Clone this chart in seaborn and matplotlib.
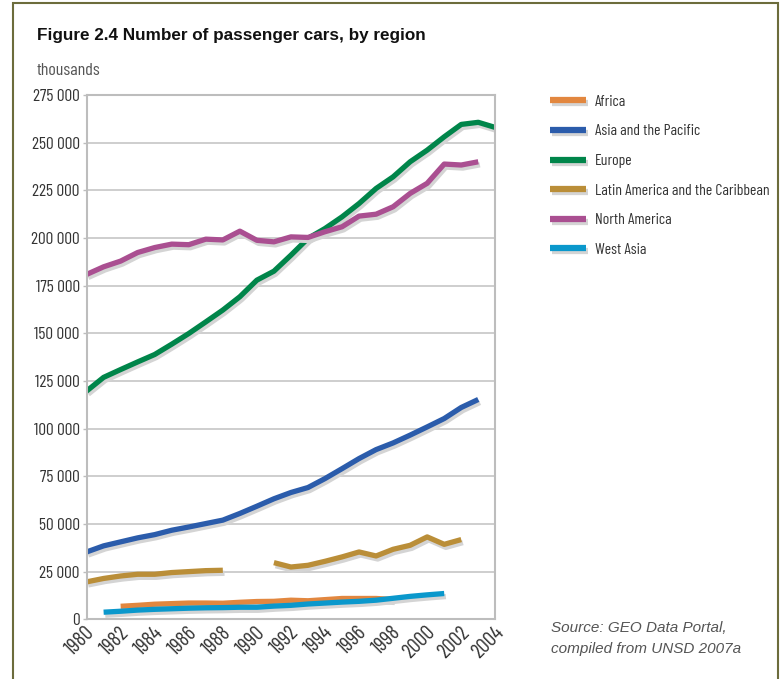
import numpy as np
import pandas as pd
import matplotlib.pyplot as plt
import matplotlib.patheffects as pe
import matplotlib.transforms as mtrans
from matplotlib import font_manager as fm
from matplotlib.patches import Rectangle
from matplotlib.ticker import FuncFormatter
import seaborn as sns

nan = np.nan
years = list(range(1980, 2005))

# thousands of passenger cars
africa = [nan, nan, 6800, 7300, 7900, 8200, 8500, 8500, 8400, 8900, 9300, 9400, 10000,
          9700, 10300, 10900, 10900, 10900, 10400, nan, nan, nan, nan, nan, nan]
asia_pacific = [35300, 38500, 40600, 42700, 44400, 46700, 48400, 50200, 52000, 55500, 59300,
                63200, 66500, 69100, 73800, 79000, 84300, 89000, 92500, 96600, 100900,
                105300, 111100, 115300, nan]
europe = [119700, 126900, 131000, 135000, 138900, 144300, 149900, 156000, 162200, 169200,
          177900, 182600, 191000, 199800, 205000, 211100, 218100, 226000, 232100, 240000,
          246100, 253100, 259600, 260700, 258000]
latin_america = [19600, 21400, 22700, 23600, 23600, 24500, 25000, 25500, 25700, nan, nan,
                 29700, 27400, 28300, 30400, 32700, 35300, 33200, 36700, 38800, 43200,
                 39300, 41800, nan, nan]
north_america = [180900, 184900, 187900, 192400, 195000, 196800, 196500, 199400, 199000,
                 203600, 198800, 198000, 200600, 200300, 203300, 205900, 211500, 212500,
                 216400, 223400, 228700, 238800, 238300, 240000, nan]
west_asia = [nan, 3700, 4200, 4800, 5200, 5500, 5800, 6000, 6100, 6300, 6300, 6900, 7300,
             8000, 8500, 9000, 9400, 10000, 11000, 12000, 12800, 13500, nan, nan, nan]

regions = ['Africa', 'Asia and the Pacific', 'Europe', 'Latin America and the Caribbean',
           'North America', 'West Asia']
series = [africa, asia_pacific, europe, latin_america, north_america, west_asia]
colors = ['#e2873f', '#2b5cab', '#00854a', '#ba8e38', '#aa4f91', '#0a98cc']

rows = []
for reg, vals in zip(regions, series):
    seg = 0
    prev = False
    for yr, v in zip(years, vals):
        if np.isnan(v):
            if prev:
                seg += 1
            prev = False
            continue
        rows.append({'year': yr, 'cars': v, 'region': reg, 'seg': reg + str(seg)})
        prev = True
df = pd.DataFrame(rows)

# narrow face for the labels, the original uses a condensed font
names = {f.name for f in fm.fontManager.ttflist}
sns.set_style('white')
if 'Barlow Condensed' in names:
    plt.rcParams['font.family'] = ['Barlow Condensed', 'DejaVu Sans']
    ytick_size, xtick_size, leg_size, small_size = 12.5, 15, 11.3, 13
else:
    plt.rcParams['font.family'] = ['DejaVu Sans']
    plt.rcParams['font.stretch'] = 'condensed'
    ytick_size, xtick_size, leg_size, small_size = 10, 11, 10, 10.5

fig = plt.figure(figsize=(7.8, 6.79), dpi=100)
ax = fig.add_axes([0.111, 0.088, 0.524, 0.772])

sns.lineplot(data=df, x='year', y='cars', hue='region', units='seg', estimator=None,
             hue_order=regions, palette=dict(zip(regions, colors)), linewidth=3.8,
             ax=ax, legend=True)
for line in ax.get_lines():
    line.set_solid_capstyle('butt')
    line.set_path_effects([pe.SimpleLineShadow(offset=(1.2, -2.2), shadow_color='#d4d4d4', alpha=1),
                           pe.Normal()])

ax.set_xlim(1980, 2004)
ax.set_ylim(0, 275000)
ax.set_xticks(range(1980, 2005, 2))
ax.set_yticks(range(0, 275001, 25000))
ax.yaxis.set_major_formatter(FuncFormatter(lambda v, p: f'{int(v):,}'.replace(',', ' ')))
ax.yaxis.grid(True, color='#c6c6c6', linewidth=1.2)
ax.xaxis.grid(False)
ax.set_axisbelow(True)
for s in ax.spines.values():
    s.set_color('#bdbdbd')
    s.set_linewidth(1.5)
ax.tick_params(axis='y', left=True, length=3, width=1, color='#bdbdbd', labelsize=ytick_size,
               labelcolor='#333333', pad=2)
ax.tick_params(axis='x', bottom=False, labelsize=xtick_size, labelcolor='#333333', pad=4)
shift = mtrans.ScaledTranslation(5 / 100, 0, fig.dpi_scale_trans)
for lbl in ax.get_xticklabels():
    lbl.set_rotation(45)
    lbl.set_ha('right')
    lbl.set_va('center')
    lbl.set_rotation_mode('anchor')
    lbl.set_transform(lbl.get_transform() + shift)
ax.set_xlabel('')
ax.set_ylabel('')

handles, labels = ax.get_legend_handles_labels()
for h in handles:
    h.set_linewidth(4.5)
ax.legend(handles, labels, loc='upper left', bbox_to_anchor=(0.687, 0.881),
          bbox_transform=fig.transFigure, frameon=False, fontsize=leg_size,
          handlelength=2.3, handletextpad=0.55, labelspacing=0.99, labelcolor='#333333')

fig.text(0.047, 0.948, 'Figure 2.4 Number of passenger cars, by region', fontsize=12.3,
         fontweight='bold', family=['Liberation Sans', 'DejaVu Sans'], color='#111111', va='center')
fig.text(0.047, 0.896, 'thousands', fontsize=small_size, color='#555555', va='center')
fig.text(0.706, 0.06, 'Source: GEO Data Portal,\ncompiled from UNSD 2007a', fontsize=11,
         style='italic', family=['Liberation Sans', 'DejaVu Sans'], color='#555555',
         va='center', linespacing=1.6)

fig.patches.append(Rectangle((0.017, -0.05), 0.98, 1.045, transform=fig.transFigure,
                             fill=False, edgecolor='#6c6c3c', linewidth=1.5))

fig.savefig('out.png', dpi=100)
